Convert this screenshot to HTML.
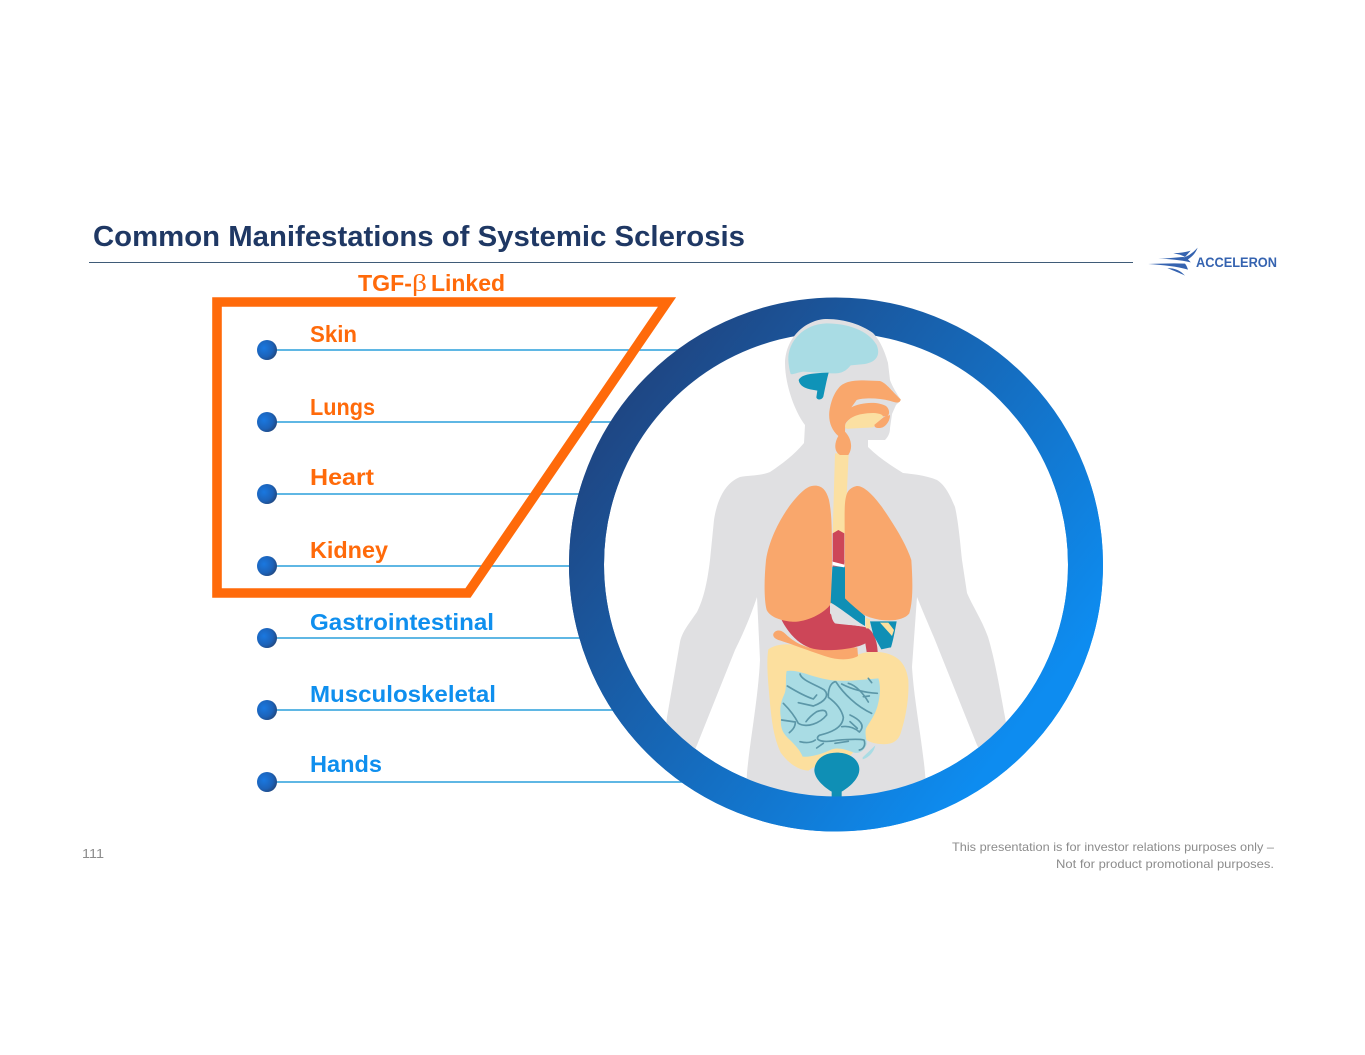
<!DOCTYPE html>
<html lang="en">
<head>
<meta charset="utf-8">
<title>Common Manifestations of Systemic Sclerosis</title>
<style>
html,body{margin:0;padding:0;background:#fff;}
svg{display:block;}
text{font-family:"Liberation Sans",sans-serif;}
.lb{font-weight:bold;font-size:23px;}
.o{fill:#ff6a0a;}
.b{fill:#0f8fee;}
.f{font-size:12px;fill:#8c8c8c;}
</style>
</head>
<body>
<svg width="1365" height="1055" viewBox="0 0 1365 1055" xmlns="http://www.w3.org/2000/svg">
<defs>
<linearGradient id="rg" gradientUnits="userSpaceOnUse" x1="620" y1="380" x2="1040" y2="700">
<stop offset="0" stop-color="#1f4480"/>
<stop offset="1" stop-color="#0d8cf0"/>
</linearGradient>
<radialGradient id="bu" cx="0.35" cy="0.4" r="0.75">
<stop offset="0" stop-color="#1a78e0"/>
<stop offset="0.6" stop-color="#1c62b8"/>
<stop offset="1" stop-color="#23406f"/>
</radialGradient>
<clipPath id="low"><rect x="540" y="480" width="600" height="380"/></clipPath>
</defs>

<rect width="1365" height="1055" fill="#fff"/>

<!-- header -->
<text x="93" y="246" font-size="29" font-weight="bold" fill="#1f3864" textLength="652" lengthAdjust="spacingAndGlyphs">Common Manifestations of Systemic Sclerosis</text>
<rect x="89" y="262" width="1044" height="1" fill="#3f5b78"/>

<!-- logo -->
<g transform="translate(1130,235) scale(0.3333)" fill="#3563b0">
<path d="M130 55 C150 54 165 52 182 47 L165 66 C155 60 145 57 130 55 Z"/>
<path d="M203 38 C196 55 188 65 166 78 L160 68 C178 62 190 52 203 38 Z"/>
<path d="M85 71 C115 70 140 67 160 66 C170 70 178 75 182 82 C150 75 120 72 85 71 Z"/>
<path d="M55 87 C95 86 130 84 165 86 C170 92 172 98 174 104 C140 94 100 90 55 87 Z"/>
<path d="M112 99 C135 100 150 105 165 122 C150 114 130 107 112 99 Z"/>
</g>
<text x="1196" y="267" font-size="13.5" font-weight="bold" fill="#3563b0" textLength="81" lengthAdjust="spacingAndGlyphs">ACCELERON</text>

<!-- connector lines -->
<g stroke="#2a9fdc" stroke-width="1.6" fill="none">
<line x1="274" y1="350" x2="700" y2="350"/>
<line x1="274" y1="422" x2="640" y2="422"/>
<line x1="274" y1="494" x2="600" y2="494"/>
<line x1="274" y1="566" x2="590" y2="566"/>
<line x1="274" y1="638" x2="600" y2="638"/>
<line x1="274" y1="710" x2="640" y2="710"/>
<line x1="274" y1="782" x2="700" y2="782"/>
</g>
<g fill="url(#bu)">
<circle cx="267" cy="350" r="10"/>
<circle cx="267" cy="422" r="10"/>
<circle cx="267" cy="494" r="10"/>
<circle cx="267" cy="566" r="10"/>
<circle cx="267" cy="638" r="10"/>
<circle cx="267" cy="710" r="10"/>
<circle cx="267" cy="782" r="10"/>
</g>

<!-- orange frame -->
<path d="M217 302 H667 L468 593 H217 Z" fill="none" stroke="#ff6a0a" stroke-width="9.6" stroke-linejoin="miter"/>

<!-- TGF label -->
<text class="lb o" x="358" y="291" textLength="54" lengthAdjust="spacingAndGlyphs">TGF-</text>
<text x="412" y="291" font-size="24" fill="#ff6a0a" style="font-family:'Liberation Serif',serif" textLength="15" lengthAdjust="spacingAndGlyphs">β</text>
<text class="lb o" x="431" y="291" textLength="74" lengthAdjust="spacingAndGlyphs">Linked</text>

<!-- labels -->
<text class="lb o" x="310" y="342" textLength="47" lengthAdjust="spacingAndGlyphs">Skin</text>
<text class="lb o" x="310" y="415" textLength="65" lengthAdjust="spacingAndGlyphs">Lungs</text>
<text class="lb o" x="310" y="485" textLength="64" lengthAdjust="spacingAndGlyphs">Heart</text>
<text class="lb o" x="310" y="558" textLength="78" lengthAdjust="spacingAndGlyphs">Kidney</text>
<text class="lb b" x="310" y="630" textLength="184" lengthAdjust="spacingAndGlyphs">Gastrointestinal</text>
<text class="lb b" x="310" y="702" textLength="186" lengthAdjust="spacingAndGlyphs">Musculoskeletal</text>
<text class="lb b" x="310" y="772" textLength="72" lengthAdjust="spacingAndGlyphs">Hands</text>

<!-- ring -->
<circle cx="836" cy="564.5" r="249.5" fill="#fff" stroke="url(#rg)" stroke-width="35"/>

<!-- body silhouette -->
<path fill="#e0e0e2" d="M827 319 C808 319 786 335 785 363 C785 385 795 412 805 425 L804 443 C794 455 782 464 770 472 C760 476 750 475 740 477 C725 483 717 500 714 520 L710 560 C707 585 703 600 697 612 C688 625 682 632 680 642 L667 717 L662 760 L690 760 L697 745 L735 650 C745 630 752 612 757 597 L760 660 C758 700 750 740 747 773 L745 810 L928 810 L925 773 C922 740 914 700 912 667 L917 597 C923 612 930 628 935 640 L977 745 L985 760 L1012 760 L1005 717 C1000 690 995 660 988 637 C982 620 972 605 967 593 L962 560 C960 540 958 520 955 507 C950 495 945 485 937 480 C925 475 912 474 903 473 C890 465 878 457 868 447 L868 440 L885 440 C889 436 890 432 890 428 L892 414 L896 405 L901 400 C897 394 892 386 890 380 L888 363 C884 348 878 338 873 333 C862 325 845 319 827 319 Z"/>

<!-- colon + stomach + pancreas under lungs -->
<g transform="translate(660,560) scale(0.33333)">
<path fill="#fcdf9e" d="M325 268 C350 250 395 248 430 262 C470 280 530 298 590 285 C610 278 640 270 680 280 C715 290 738 310 745 360 C748 420 735 480 722 520 C712 548 690 555 660 552 C640 550 625 545 615 535 L560 600 L480 610 L445 632 C415 630 385 610 362 578 C340 530 335 480 330 430 C325 370 318 310 325 268 Z"/>
<path fill="#f9a76c" d="M340 222 C345 210 360 208 372 218 C395 240 425 262 470 266 L592 262 L594 288 C570 302 530 300 500 290 C450 274 390 250 355 240 C345 236 338 230 340 222 Z"/>
<path fill="#cd4658" d="M360 170 L510 120 C512 165 515 180 525 190 C560 196 605 195 625 205 C645 220 652 250 653 276 L620 276 L616 250 C590 265 520 275 470 268 C425 262 385 225 360 170 Z"/>
</g>

<!-- organs, zoom 1 coordinates -->
<g transform="translate(660,300) scale(0.33333)">
<path fill="#a9dce4" d="M385 180 C383 125 430 72 500 70 C560 70 625 90 650 135 C662 165 650 185 615 192 L572 196 C560 210 548 222 515 220 L430 215 C410 218 398 225 392 222 C388 210 386 195 385 180 Z"/>
<path fill="#0f93b8" d="M416 240 C425 225 445 220 506 218 C500 240 495 265 490 290 C486 300 472 302 469 292 L472 272 C450 268 420 265 416 240 Z"/>
<path fill="#fbe0a2" d="M525 460 L566 460 L555 700 L518 700 Z"/>
<path fill="#f9a76c" d="M535 265 C548 248 570 241 610 241 L660 243 C680 250 690 268 722 298 C720 310 712 309 695 304 C660 293 610 293 590 300 L574 322 C600 308 650 302 678 318 C690 328 690 345 680 350 L612 345 C585 345 565 355 556 372 L555 395 C570 410 582 440 565 465 L540 465 C522 455 522 430 535 408 C515 390 505 365 508 335 C512 305 522 280 535 265 Z"/>
<path fill="#fbe0a2" d="M555 378 C565 352 590 340 640 339 C660 340 672 345 668 352 L652 368 L640 382 L570 386 C560 388 555 385 555 378 Z"/>
<path fill="#f9a76c" d="M644 374 L670 352 L690 345 C690 362 680 376 668 382 C658 386 640 385 644 374 Z"/>
<!-- lungs (full shape; lower part z2 y = y-780) -->
<path fill="#f9a76c" d="M455 558 C480 553 498 565 507 600 C515 640 516 680 516 780 L514 910 C490 945 430 968 395 965 C360 962 330 950 320 930 C312 900 312 840 318 780 C330 700 385 610 430 572 C438 565 446 560 455 558 Z"/>
<path fill="#f9a76c" d="M590 558 C610 556 640 585 665 620 C700 670 738 730 754 780 C758 840 760 900 748 940 C735 958 700 964 665 960 C630 956 590 940 555 900 L554 690 C554 640 552 600 562 578 C568 566 580 560 590 558 Z"/>
<path fill="#cd4658" d="M518 700 L535 690 L553 700 L553 800 L518 800 Z"/>
</g>

<g transform="translate(660,560) scale(0.33333)">
<!-- vessels -->
<path fill="#e0e0e2" d="M510 130 L560 130 L610 180 L610 200 L540 190 L510 160 Z"/>
<path fill="#0f8fb5" d="M517 20 L555 20 L555 115 C575 135 600 155 615 168 L615 198 C590 185 550 150 512 128 Z"/>
<path fill="#fff" d="M518 5 L553 14 L553 22 L518 16 Z"/>
<path fill="#cd4658" d="M518 0 L553 0 L553 9 L518 4 Z"/>
<path fill="#fcdf9e" d="M616 172 L630 178 L630 205 L618 205 Z"/>
<path fill="#0f8fb5" d="M630 184 L710 184 C706 205 700 240 693 262 L664 268 L640 225 Z"/>
<path fill="#fcdf9e" d="M660 188 L685 188 L702 210 L696 228 Z"/>
</g>

<!-- small intestine, zoom 5 coordinates -->
<g transform="translate(770,660) scale(0.33333)">
<path fill="#a9dce4" d="M50 33 C70 30 90 36 110 42 C140 52 170 60 200 62 C240 64 290 58 325 55 C332 75 332 105 322 140 C315 165 300 185 288 205 C284 220 290 240 290 252 C285 270 270 282 252 278 C225 268 205 262 185 268 C160 280 125 292 98 290 C90 270 75 255 60 240 C40 222 30 205 33 175 C28 150 32 125 42 105 C52 85 45 55 50 33 Z"/>
<path fill="#a9dce4" d="M278 292 L316 256 C312 275 298 292 278 298 Z"/>
<g fill="none" stroke="#5c97a8" stroke-width="5" stroke-linecap="round" stroke-linejoin="round">
<path d="M90 42 C95 62 140 75 163 90 C178 105 168 124 130 138 L85 128"/>
<path d="M52 78 C80 95 108 110 130 117 L140 105"/>
<path d="M195 65 C180 70 174 90 175 112 C200 130 215 150 220 172 C218 205 180 218 148 226 C132 238 150 250 200 241 C235 238 265 236 282 240 C288 255 280 268 268 270"/>
<path d="M198 66 C220 100 260 140 305 160"/>
<path d="M215 72 C250 90 290 98 322 100"/>
<path d="M235 70 C258 76 280 100 295 126 M280 110 L298 108 M295 55 L305 68"/>
<path d="M40 130 C60 150 75 170 85 190 C110 205 150 190 170 165 C170 150 160 148 140 155 C125 165 115 175 108 185"/>
<path d="M35 180 L76 186 C76 203 65 212 58 218"/>
<path d="M240 165 C268 178 288 196 268 216 C250 200 230 198 215 200 M240 185 L262 205"/>
<path d="M90 245 C110 250 125 248 136 240 M140 264 L160 250 M195 250 L235 244"/>
</g>
</g>

<g transform="translate(660,560) scale(0.33333)">
<!-- bladder -->
<path fill="#0f8fb5" d="M463 630 C465 600 490 578 530 578 C570 578 598 600 598 628 C598 655 570 680 545 695 L545 720 L515 720 L515 695 C490 680 463 655 463 630 Z"/>
</g>

<!-- ring lower part drawn over body -->
<circle cx="836" cy="564.5" r="249.5" fill="none" stroke="url(#rg)" stroke-width="35" clip-path="url(#low)"/>

<!-- footer -->
<text x="82" y="858" font-size="13" fill="#8c8c8c" textLength="22" lengthAdjust="spacingAndGlyphs">111</text>
<text class="f" x="952" y="851" textLength="322" lengthAdjust="spacingAndGlyphs">This presentation is for investor relations purposes only –</text>
<text class="f" x="1056" y="868" textLength="218" lengthAdjust="spacingAndGlyphs">Not for product promotional purposes.</text>
</svg>
</body>
</html>
